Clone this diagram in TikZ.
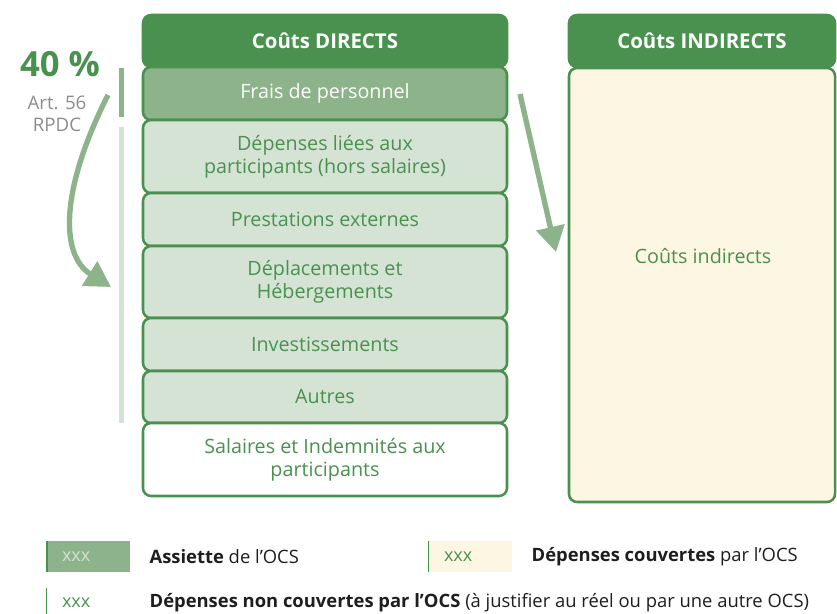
\documentclass[tikz,border=0pt]{standalone}
\usepackage{fontspec}
\setmainfont{Open Sans}
\usetikzlibrary{positioning, arrows.meta}
\definecolor{leaf}{HTML}{4A9150}
\definecolor{sage}{HTML}{8DB38A}
\definecolor{mist}{HTML}{D5E3D5}
\definecolor{cream}{HTML}{FDF6E3}
\definecolor{slate}{HTML}{8C8C8C}
\definecolor{ink}{HTML}{1E1E1E}

\begin{document}
\begin{tikzpicture}[x=0.75pt, y=-0.75pt, font=\fontsize{14.8}{17.5}\selectfont,
  cell/.style={rectangle, draw=leaf, line width=1.9pt, rounded corners=6pt, minimum width=273pt, align=center, text=leaf, fill=mist},
  head/.style={cell, fill=leaf, text=white, font=\fontsize{15.3}{18}\selectfont\bfseries, minimum height=39pt},
  swatch/.style={rectangle, minimum height=23pt, text width=39pt, inner xsep=12pt, align=left, text=leaf, font=\fontsize{13.5}{16}\selectfont,
    path picture={\draw[leaf, line width=#1] (path picture bounding box.north west) -- (path picture bounding box.south west);}},
  swatch/.default=3pt,
  key/.style={text=ink, font=\fontsize{13.8}{16}\selectfont},
  flow/.style={sage, line width=4pt, -{Triangle[length=19pt, width=21pt]}}]
  \useasboundingbox (0,0) rectangle (837,613);

  % direct costs column
  \node[head] (dhead) at (325,41) {Coûts DIRECTS};
  \node[cell, fill=sage, text=white, minimum height=39.75pt] (frais) at (325,93.5) {Frais de personnel};
  \node[cell, minimum height=54.75pt] (part) at (325,156.5) {Dépenses liées aux\\participants (hors salaires)};
  \node[cell, minimum height=39.75pt] (prest) at (325,219.5) {Prestations externes};
  \node[cell, minimum height=54pt] (depl) at (325,282) {Déplacements et\\Hébergements};
  \node[cell, minimum height=39.75pt] (invest) at (325,344.5) {Investissements};
  \node[cell, minimum height=39pt] (autres) at (325,397) {Autres};
  \node[cell, fill=white, minimum height=54.75pt] (sal) at (325,459.5) {Salaires et Indemnités aux\\participants};

  % indirect costs column
  \node[head, minimum width=199.5pt] (ihead) at (702,41) {Coûts INDIRECTS};
  \node[cell, fill=cream, minimum width=199.5pt, minimum height=325.5pt] (indir) at (702,285) {};
  \node[text=leaf] (indirtxt) at (703,256) {Coûts indirects};

  % 40 % rule
  \node[text=leaf, font=\fontsize{26}{30}\selectfont\bfseries] (pct) at (60,64) {40 \%};
  \node[text=slate, align=center, font=\fontsize{14}{16.5}\selectfont] (rpdc) at (57,114) {Art. 56\\RPDC};
  \draw[sage, line width=3.75pt] (121,68) -- (121,117);
  \draw[mist, line width=3.75pt] (121,127) -- (121,423);

  \coordinate (cstart) at (108,95);
  \coordinate (cend) at (111,287);
  \draw[flow] (cstart) .. controls (60,190) and (60,255) .. (cend);
  \coordinate (dstart) at (520,94);
  \coordinate (dend) at (556,252);
  \draw[flow] (dstart) -- (dend);

  % legend
  \node[swatch, fill=sage, text=mist] (sw1) at (88,556.5) {xxx};
  \node[key, right=11pt of sw1] (k1) {\textbf{Assiette} de l’OCS};
  \node[swatch=2pt, fill=cream] (sw2) at (470,556.5) {xxx};
  \node[key, right=11pt of sw2] (k2) {\textbf{Dépenses couvertes} par l’OCS};
  \node[swatch=2pt, fill=white] (sw3) at (88,603) {xxx};
  \node[key, right=11pt of sw3] (k3) {\textbf{Dépenses non couvertes par l’OCS} (à justifier au réel ou par une autre OCS)};
\end{tikzpicture}
\end{document}
